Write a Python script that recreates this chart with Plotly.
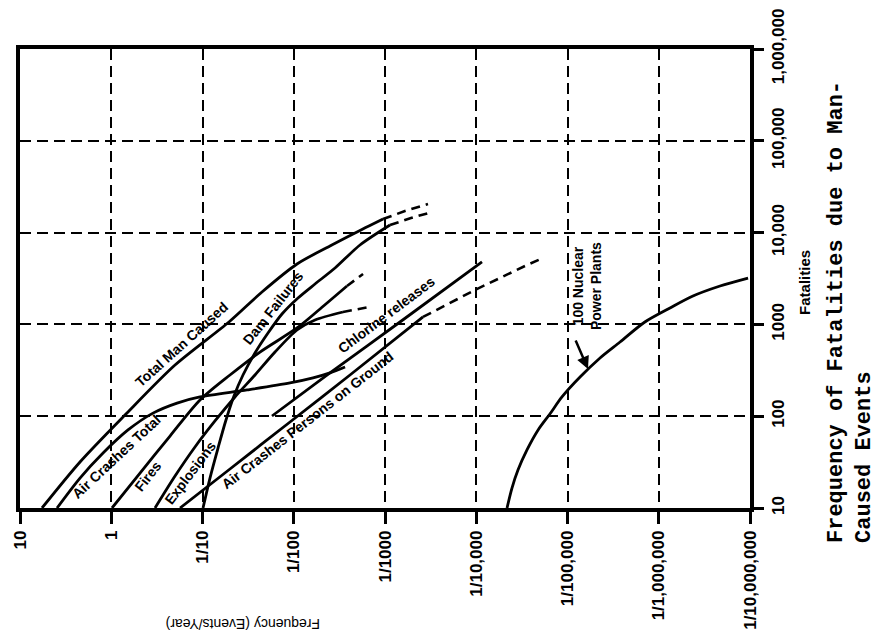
import numpy as np
import plotly.graph_objects as go

# ---------------- data (frequency in events/year, fatalities) ----------------
freq_ticks = [10, 1, 0.1, 0.01, 0.001, 1e-4, 1e-5, 1e-6, 1e-7]
freq_labels = ["10", "1", "1/10", "1/100", "1/1000", "1/10,000", "1/100,000",
               "1/1,000,000", "1/10,000,000"]
fat_ticks = [10, 100, 1000, 10000, 100000, 1000000]
fat_labels = ["10", "100", "1000", "10,000", "100,000", "1,000,000"]

tmc_freq = [5.74, 2.20, 0.707, 0.200, 0.0513, 0.0223, 0.00921, 0.00401, 0.00213, 0.00105]
tmc_fat = [10, 31.7, 103, 361, 1062, 2254, 4550, 7145, 9910, 14060]
tmc_ext_freq = [0.00105, 0.000604, 0.000338]
tmc_ext_fat = [14060, 17180, 20500]

act_freq = [3.93, 2.20, 1.23, 0.655, 0.349, 0.190, 0.1065, 0.0325, 0.01099, 0.00615, 0.00401, 0.00274]
act_fat = [10, 21.2, 39.7, 70.8, 108, 139, 162, 193, 230, 261, 296, 344]

fires_freq = [0.981, 0.484, 0.227, 0.1065, 0.0500, 0.02344, 0.00921, 0.00515, 0.00261]
fires_fat = [10, 24.0, 60.8, 150, 281, 500, 914, 1473, 2618]
fires_ext_freq = [0.00261, 0.00174]
fires_ext_fat = [2618, 3540]

expl_freq = [0.3315, 0.200, 0.1209, 0.0730, 0.0441, 0.0266, 0.01605, 0.00921, 0.00585, 0.00289]
expl_fat = [10, 22.3, 46.2, 88.7, 162, 281, 500, 869, 1117, 1365]
expl_ext_freq = [0.00289, 0.00146]
expl_ext_fat = [1365, 1549]

dam_freq = [0.0987, 0.0828, 0.0676, 0.0553, 0.0452, 0.0360, 0.0266, 0.01915, 0.01346,
            0.00898, 0.00585, 0.00353, 0.00188, 0.000881]
dam_fat = [10, 21.2, 45.0, 90.9, 166, 281, 488, 805, 1297, 1940, 2754, 4110, 7330, 12100]
dam_ext_freq = [0.000881, 0.000519, 0.000305]
dam_ext_fat = [12100, 14420, 16750]

chl_freq = [0.01732, 0.00401, 0.000685, 0.0000865]
chl_fat = [100.5, 296, 1062, 4786]

acpg_freq = [0.1764, 0.0500, 0.01099, 0.00242, 0.000383]
acpg_fat = [10, 26.6, 86.5, 281, 1205]
acpg_ext_freq = [0.000383, 0.0001033, 0.0000278, 0.00001856]
acpg_ext_fat = [1205, 2371, 4436, 5285]

npp_freq = [4.60e-5, 4.06e-5, 3.49e-5, 2.78e-5, 2.10e-5, 1.56e-5, 1.15e-5, 7.29e-6,
            4.40e-6, 2.66e-6, 1.42e-6, 7.53e-7, 4.22e-7, 2.13e-7, 1.05e-7]
npp_fat = [10, 16.5, 25.9, 42.9, 70.8, 105.7, 162, 267, 431, 643, 1062, 1510, 2037, 2618, 3200]

label_text = ["Total Man Caused", "Air Crashes Total", "Fires", "Explosions",
              "Dam Failures", "Chlorine releases", "Air Crashes Persons on Ground"]
label_freq = [0.168, 0.887, 0.396, 0.137, 0.01688, 0.000975, 0.00700]
label_fat = [612, 35.9, 22.3, 24.0, 1510, 1265, 90.0]
label_angle = [-42, -43, -52, -53, -52, -37, -38]

npp_label_freq = 6.11e-6
npp_label_fat = 2618
npp_arrow_freq = 5.96e-6
npp_arrow_fat = 327

title_lines = ["Frequency of Fatalities due to Man-", "Caused Events"]

# ---------------- figure ----------------
fig = go.Figure()

solid = [(tmc_freq, tmc_fat), (act_freq, act_fat), (fires_freq, fires_fat),
         (expl_freq, expl_fat), (dam_freq, dam_fat), (chl_freq, chl_fat),
         (acpg_freq, acpg_fat), (npp_freq, npp_fat)]
dashed = [(tmc_ext_freq, tmc_ext_fat), (fires_ext_freq, fires_ext_fat),
          (expl_ext_freq, expl_ext_fat), (dam_ext_freq, dam_ext_fat),
          (acpg_ext_freq, acpg_ext_fat)]

for fx, fy in solid:
    fig.add_trace(go.Scatter(x=fx, y=fy, mode="lines",
                             line=dict(color="black", width=2.8, shape="spline", smoothing=0.8),
                             showlegend=False, hoverinfo="skip"))
for fx, fy in dashed:
    fig.add_trace(go.Scatter(x=fx, y=fy, mode="lines",
                             line=dict(color="black", width=2.6, dash="9px,6px"),
                             showlegend=False, hoverinfo="skip"))

lab_font = dict(family="Liberation Sans, Arial, sans-serif", size=14, color="black", weight="bold")
for t, fx, fy, a in zip(label_text, label_freq, label_fat, label_angle):
    fig.add_annotation(x=np.log10(fx), y=np.log10(fy), text=t, textangle=a,
                       showarrow=False, font=lab_font)

fig.add_annotation(x=np.log10(npp_label_freq), y=np.log10(npp_label_fat),
                   text="100 Nuclear<br>Power Plants", textangle=-90, showarrow=False,
                   align="center", font=lab_font)
fig.add_annotation(x=np.log10(npp_arrow_freq), y=np.log10(npp_arrow_fat), text="",
                   showarrow=True, arrowhead=2, arrowsize=1, arrowwidth=2.5,
                   arrowcolor="black", ax=-13, ay=-30, standoff=0)

fig.add_annotation(xref="paper", yref="paper", x=0.3055, y=-0.2527,
                   xanchor="center", yanchor="middle",
                   text="Frequency (Events/Year)", textangle=180, showarrow=False,
                   font=dict(family="Liberation Sans, Arial, sans-serif", size=14, color="black"))
fig.add_annotation(xref="paper", yref="paper", x=1.0753, y=0.4924,
                   xanchor="center", yanchor="middle",
                   text="Fatalities", textangle=-90, showarrow=False,
                   font=dict(family="Liberation Sans, Arial, sans-serif", size=15,
                             color="black", weight="bold"))
title_font = dict(family="Liberation Mono, Courier New, monospace", size=22,
                  color="black", weight="bold")
for line_text, px in zip(title_lines, [1.1192, 1.1575]):
    fig.add_annotation(xref="paper", yref="paper", x=px, y=-0.0806,
                       xanchor="center", yanchor="bottom", text=line_text,
                       textangle=-90, showarrow=False, font=title_font)

tick_font = dict(family="Liberation Sans, Arial, sans-serif", size=17, color="black", weight="bold")
fig.update_xaxes(type="log", range=[1, -7], tickvals=freq_ticks, ticktext=freq_labels,
                 tickangle=-90, tickfont=tick_font, ticks="outside", ticklen=12, tickwidth=3,
                 tickcolor="black", showline=True, linecolor="black", linewidth=3.5, mirror=True,
                 showgrid=True, gridcolor="black", gridwidth=2, griddash="11px,6px",
                 zeroline=False, automargin=False)
fig.update_yaxes(type="log", range=[1, 6], tickvals=fat_ticks, ticktext=fat_labels,
                 side="right", tickangle=-90, tickfont=tick_font, ticks="outside", ticklen=10,
                 tickwidth=3, tickcolor="black", showline=True, linecolor="black", linewidth=3.5,
                 mirror=True, showgrid=True, gridcolor="black", gridwidth=2,
                 griddash="11px,6px", zeroline=False, automargin=False)

fig.update_layout(width=871, height=634,
                  margin=dict(l=12, r=129, t=41, b=134, autoexpand=False),
                  paper_bgcolor="white", plot_bgcolor="white", showlegend=False)

fig.write_html("out.html")
